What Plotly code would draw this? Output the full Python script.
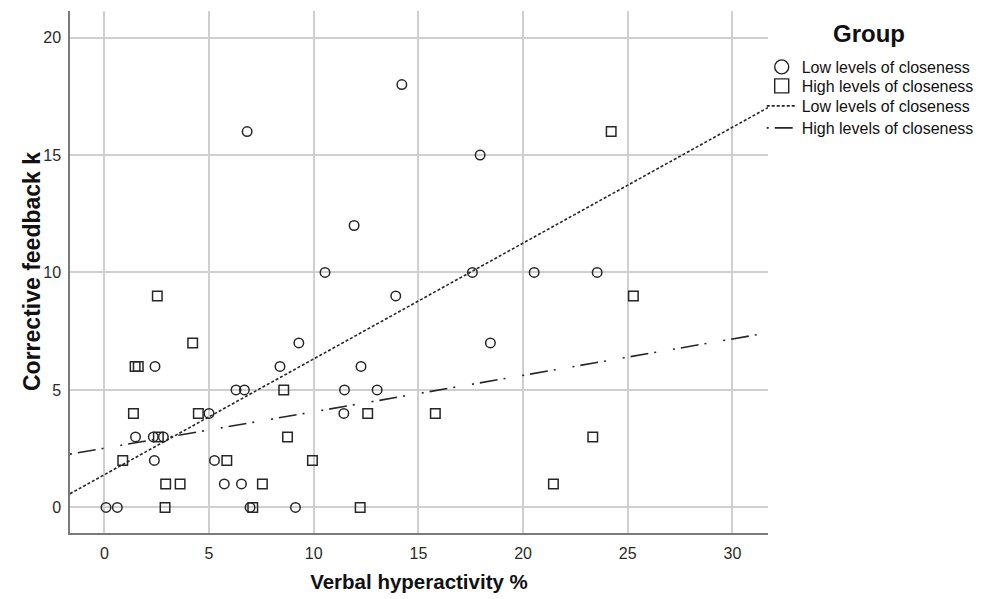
import plotly.graph_objects as go

# ---- data ----
low_x = [0.08, 0.62, 1.49, 2.34, 2.82, 2.39, 2.42, 5.0, 5.26, 5.73, 6.55, 6.29, 6.69, 6.96,
         6.82, 8.39, 9.29, 9.13, 10.54, 11.47, 11.44, 11.93, 12.26, 13.03, 13.92, 14.21,
         17.58, 17.95, 18.44, 20.53, 23.54]
low_y = [0, 0, 3, 3, 3, 2, 6, 4, 2, 1, 1, 5, 5, 0,
         16, 6, 7, 0, 10, 5, 4, 12, 6, 5, 9, 18,
         10, 15, 7, 10, 10]

high_x = [0.88, 1.39, 1.47, 1.62, 2.53, 2.58, 2.9, 2.93, 3.62, 4.22, 4.49, 5.85, 7.09, 7.55,
          8.57, 8.75, 9.94, 12.22, 12.58, 15.81, 21.45, 23.33, 24.21, 25.27]
high_y = [2, 4, 6, 6, 9, 3, 0, 1, 1, 7, 4, 2, 0, 1,
          5, 3, 2, 0, 4, 4, 1, 3, 16, 9]

# fitted lines (intercept, slope)
low_fit = (1.39, 0.493)
high_fit = (2.52, 0.155)

x_range = [-1.64, 31.7]
y_range = [-1.09, 21.13]
x_ticks = [0, 5, 10, 15, 20, 25, 30]
y_ticks = [0, 5, 10, 15, 20]

group_names = ["Low levels of closeness", "High levels of closeness"]
legend_title = "Group"
x_title = "Verbal hyperactivity %"
y_title = "Corrective feedback k"

ink = "#262626"
dot_dash = "3px,2px"
dash_dot = "2px,6px,18px,6px,2px,17px"
fig = go.Figure()

# data markers
fig.add_trace(go.Scatter(x=low_x, y=low_y, mode="markers", showlegend=False,
                         marker=dict(symbol="circle-open", size=9.5, color=ink,
                                     line=dict(width=1.5, color=ink))))
fig.add_trace(go.Scatter(x=high_x, y=high_y, mode="markers", showlegend=False,
                         marker=dict(symbol="square-open", size=9.5, color=ink,
                                     line=dict(width=1.5, color=ink))))

# fit lines
lx = [x_range[0], x_range[1]]
fig.add_trace(go.Scatter(x=lx, y=[low_fit[0] + low_fit[1] * v for v in lx], mode="lines",
                         showlegend=False, line=dict(color=ink, width=1.6, dash=dot_dash)))
fig.add_trace(go.Scatter(x=lx, y=[high_fit[0] + high_fit[1] * v for v in lx], mode="lines",
                         showlegend=False, line=dict(color=ink, width=1.6, dash=dash_dot)))

# legend entries, one legend per row so the row spacing can follow the reference
fig.add_trace(go.Scatter(x=[None], y=[None], mode="markers", name=group_names[0], legend="legend",
                         marker=dict(symbol="circle-open", size=14, color="#222",
                                     line=dict(width=1.4, color="#222"))))
fig.add_trace(go.Scatter(x=[None], y=[None], mode="markers", name=group_names[1], legend="legend2",
                         marker=dict(symbol="square-open", size=14, color="#222",
                                     line=dict(width=1.4, color="#222"))))
fig.add_trace(go.Scatter(x=[None], y=[None], mode="lines", name=group_names[0], legend="legend3",
                         line=dict(color=ink, width=1.6, dash=dot_dash)))
fig.add_trace(go.Scatter(x=[None], y=[None], mode="lines", name=group_names[1], legend="legend4",
                         line=dict(color=ink, width=1.6, dash=dash_dot)))

axis_common = dict(showgrid=True, gridcolor="#cfcfcf", gridwidth=1.5, zeroline=False,
                   showline=True, linecolor="#7a7a7a", linewidth=1.5, ticks="",
                   automargin=False,
                   tickfont=dict(family="Arial, Liberation Sans", size=16, color="#2a2a2a"))

plot_top, plot_h = 11, 522  # screen px of the plot area (for legend row placement)
row_px = [67, 86, 106, 128]


def leg(py):
    return dict(x=0.991, xanchor="left", y=1 - (py - plot_top) / plot_h, yanchor="middle",
                font=dict(size=16, color="#111"), bgcolor="rgba(0,0,0,0)")


# the page body adds an 8px offset, so the figure is sized/margined to compensate
fig.update_layout(
    width=979, height=591,
    margin=dict(l=62, r=219, t=3, b=66),
    plot_bgcolor="white", paper_bgcolor="white",
    font=dict(family="Arial, Liberation Sans", color="#111"),
    xaxis=dict(range=x_range, tickvals=x_ticks, ticklabelstandoff=5,
               title=dict(text="<b>" + x_title + "</b>", font=dict(size=20.5, color="#111"),
                          standoff=14), **axis_common),
    yaxis=dict(range=y_range, tickvals=y_ticks, ticklabelstandoff=4, **axis_common),
    legend=leg(row_px[0]), legend2=leg(row_px[1]),
    legend3=leg(row_px[2]), legend4=leg(row_px[3]),
    annotations=[
        dict(text="<b>" + legend_title + "</b>", xref="paper", yref="paper",
             x=1.145, y=1.0, xanchor="center", yanchor="middle",
             yshift=-22, showarrow=False, font=dict(size=24, color="#111")),
        dict(text="<b>" + y_title + "</b>", xref="paper", yref="paper",
             x=0, y=0.5, xanchor="center", yanchor="middle", xshift=-38, textangle=-90,
             showarrow=False, font=dict(size=23, color="#111")),
    ],
)

fig.write_html("out.html")
